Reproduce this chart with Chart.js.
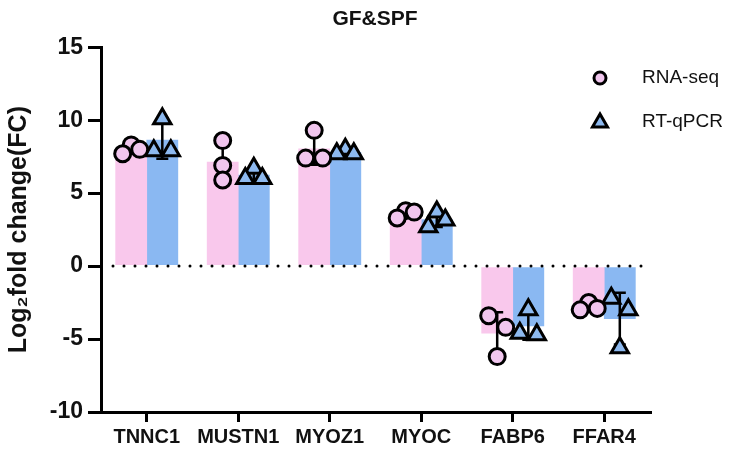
<!DOCTYPE html>
<html>
<head>
<meta charset="utf-8">
<script src="https://cdn.jsdelivr.net/npm/chart.js@4.4.0/dist/chart.umd.min.js"></script>
<style>
  html, body { margin: 0; padding: 0; background: #fff; }
  #wrap { width: 750px; height: 457px; }
</style>
</head>
<body>
<div id="wrap"><canvas id="chart"></canvas></div>
<script>
// data (3 replicates per gene)
const genes = ["TNNC1", "MUSTN1", "MYOZ1", "MYOC", "FABP6", "FFAR4"];
const rnaSeq = [
  [8.3, 7.7, 8.0],
  [8.6, 6.9, 5.9],
  [9.3, 7.4, 7.4],
  [3.8, 3.3, 3.7],
  [-3.4, -4.2, -6.2],
  [-2.5, -2.9, -3.0]
];
const rtQpcr = [
  [7.9, 10.1, 7.9],
  [6.0, 6.7, 6.0],
  [7.7, 8.0, 7.7],
  [2.7, 3.7, 3.15],
  [-3.0, -4.7, -4.6],
  [-2.2, -5.6, -3.0]
];
const yTicks = [-10, -5, 0, 5, 10, 15];

const pinkBar = "#f9c8ec";
const blueBar = "#8ab8f2";
const pinkDot = "#f1c6ee";
const blueDot = "#8db9ef";

function mean(a) {
  return a.reduce((s, v) => s + v, 0) / a.length;
}
function sd(a) {
  const m = mean(a);
  return Math.sqrt(a.reduce((s, v) => s + (v - m) * (v - m), 0) / (a.length - 1));
}

// simple dot layout: close values sit side by side, lone values stay centred
function swarm(vals, center) {
  const sorted = vals.slice().sort((a, b) => b - a);
  const groups = [];
  sorted.forEach(v => {
    const g = groups[groups.length - 1];
    if (g && g[g.length - 1] - v < 0.9) g.push(v);
    else groups.push([v]);
  });
  const pts = [];
  groups.forEach(g => {
    const offs = g.length === 1 ? [0] : g.length === 2 ? [-1, 1] : [0, 1, -1];
    g.forEach((v, i) => pts.push({ x: center + offs[i] * 0.093, y: v }));
  });
  return pts;
}

// pink bar left of the tick, blue bar right of it
const barHalf = 0.17;
const rnaBars = genes.map((g, i) => ({ x: i - barHalf, y: mean(rnaSeq[i]) }));
const qpcrBars = genes.map((g, i) => ({ x: i + barHalf, y: mean(rtQpcr[i]) }));
const rnaPoints = [];
const qpcrPoints = [];
genes.forEach((g, i) => {
  rnaPoints.push(...swarm(rnaSeq[i], i - barHalf));
  qpcrPoints.push(...swarm(rtQpcr[i], i + barHalf));
});

// dotted zero line + SD error bars, drawn over bars but under the dots
const extras = {
  id: "extras",
  afterDatasetDraw(chart, args) {
    if (args.index !== 0) return;
    const ctx = chart.ctx;
    const area = chart.chartArea;
    const y = chart.scales.y;
    const xs = chart.scales.xs;
    ctx.save();
    ctx.strokeStyle = "#000";
    ctx.lineWidth = 3;
    ctx.lineCap = "round";
    ctx.setLineDash([0, 11]);
    ctx.beginPath();
    ctx.moveTo(area.left + 12, y.getPixelForValue(0));
    ctx.lineTo(area.right, y.getPixelForValue(0));
    ctx.stroke();
    ctx.setLineDash([]);
    ctx.lineCap = "butt";
    ctx.lineWidth = 2.5;
    [[rnaSeq, rnaBars], [rtQpcr, qpcrBars]].forEach(([series, bars]) => {
      series.forEach((vals, i) => {
        const x = xs.getPixelForValue(bars[i].x);
        const m = mean(vals), d = sd(vals);
        const top = y.getPixelForValue(m + d);
        const bot = y.getPixelForValue(m - d);
        ctx.beginPath();
        ctx.moveTo(x, top); ctx.lineTo(x, bot);
        ctx.moveTo(x - 6, top); ctx.lineTo(x + 6, top);
        ctx.moveTo(x - 6, bot); ctx.lineTo(x + 6, bot);
        ctx.stroke();
      });
    });
    ctx.restore();
  },
  afterDraw(chart) {
    const ctx = chart.ctx;
    ctx.save();
    ctx.lineWidth = 3;
    ctx.strokeStyle = "#000";
    // circle key
    ctx.fillStyle = pinkDot;
    ctx.beginPath();
    ctx.arc(600, 78, 6, 0, Math.PI * 2);
    ctx.fill(); ctx.stroke();
    // triangle key
    ctx.fillStyle = blueDot;
    ctx.beginPath();
    ctx.moveTo(600, 114);
    ctx.lineTo(607.5, 127);
    ctx.lineTo(592.5, 127);
    ctx.closePath();
    ctx.fill(); ctx.stroke();
    ctx.fillStyle = "#111";
    ctx.font = "19px Arial, 'Liberation Sans', sans-serif";
    ctx.textBaseline = "middle";
    ctx.fillText(chart.data.datasets[2].label, 642, 78);
    ctx.fillText(chart.data.datasets[3].label, 642, 122);
    ctx.restore();
  }
};

const font = "Arial, 'Liberation Sans', sans-serif";

const chart = new Chart(document.getElementById("chart"), {
  type: "bar",
  data: {
    labels: genes,
    datasets: [
      {
        label: "RNA-seq mean",
        data: rnaBars,
        backgroundColor: pinkBar,
        xAxisID: "xs",
        grouped: false,
        categoryPercentage: 1,
        barPercentage: 1,
        order: 2
      },
      {
        label: "RT-qPCR mean",
        data: qpcrBars,
        backgroundColor: blueBar,
        xAxisID: "xs",
        grouped: false,
        categoryPercentage: 1,
        barPercentage: 1,
        order: 2
      },
      {
        type: "scatter",
        label: "RNA-seq",
        data: rnaPoints,
        xAxisID: "xs",
        pointStyle: "circle",
        pointRadius: 8,
        backgroundColor: pinkDot,
        borderColor: "#000",
        borderWidth: 3,
        order: 1
      },
      {
        type: "scatter",
        label: "RT-qPCR",
        data: qpcrPoints,
        xAxisID: "xs",
        pointStyle: "triangle",
        pointRadius: 10,
        backgroundColor: blueDot,
        borderColor: "#000",
        borderWidth: 3,
        order: 1
      }
    ]
  },
  options: {
    responsive: true,
    maintainAspectRatio: false,
    animation: false,
    layout: { padding: 0 },
    plugins: {
      legend: { display: false },
      tooltip: { enabled: false },
      title: {
        display: true,
        text: "GF&SPF",
        color: "#111",
        font: { family: font, size: 21, weight: "bold" },
        padding: { top: 7, bottom: 15 }
      }
    },
    scales: {
      x: {
        type: "category",
        offset: true,
        grid: {
          offset: false,
          drawOnChartArea: false,
          drawTicks: true,
          tickLength: 10,
          color: "#000",
          lineWidth: 3
        },
        border: { color: "#000", width: 3 },
        ticks: {
          color: "#111",
          padding: 3,
          maxRotation: 0,
          autoSkip: false,
          font: { family: font, size: 20, weight: "bold" }
        },
        afterFit(scale) { scale.height = 45; }
      },
      xs: {
        type: "linear",
        display: false,
        offset: false,
        min: -0.5,
        max: 5.5,
        ticks: { stepSize: 0.5 }
      },
      y: {
        min: -10,
        max: 15,
        afterBuildTicks(scale) {
          scale.ticks = yTicks.map(v => ({ value: v }));
        },
        grid: {
          drawOnChartArea: false,
          drawTicks: true,
          tickLength: 13,
          color: "#000",
          lineWidth: 3
        },
        border: { color: "#000", width: 3 },
        ticks: {
          color: "#111",
          padding: 5,
          font: { family: font, size: 23, weight: "bold" }
        },
        title: {
          display: true,
          text: "Log\u2082fold change(FC)",
          color: "#111",
          padding: { top: 4, bottom: 2 },
          font: { family: font, size: 25, weight: "bold" }
        },
        afterFit(scale) { scale.width = 101; }
      },
      // empty right-hand gutter that holds the legend
      gutter: {
        type: "linear",
        axis: "y",
        position: "right",
        display: true,
        ticks: { display: false },
        grid: { display: false },
        border: { display: false },
        afterFit(scale) { scale.width = 100; }
      }
    }
  },
  plugins: [extras]
});
</script>
</body>
</html>
